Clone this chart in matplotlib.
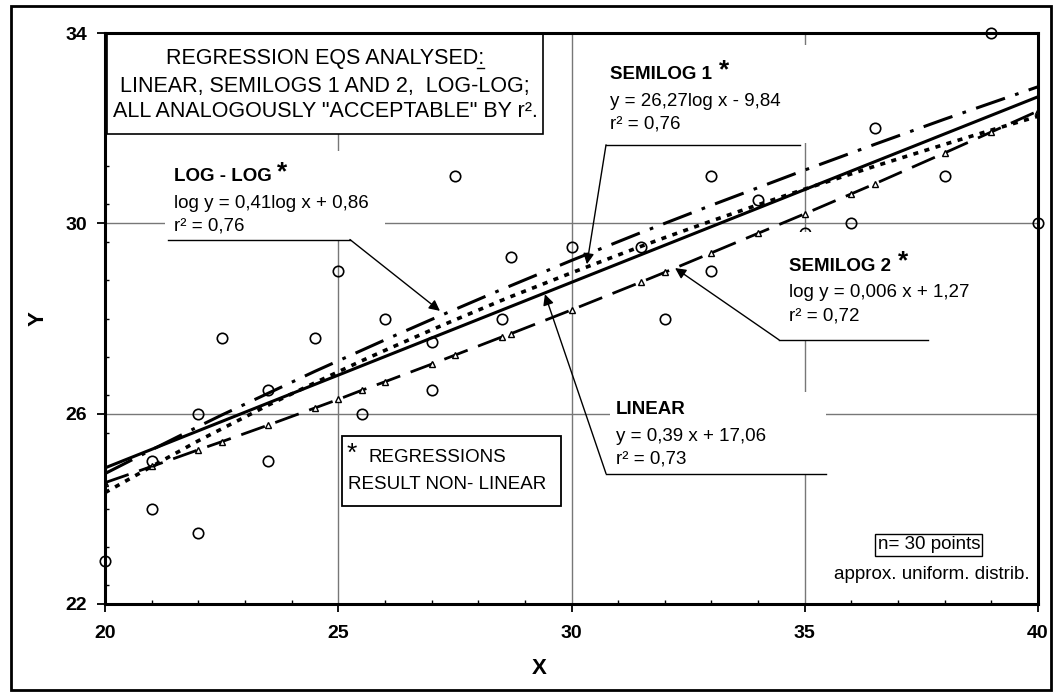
import matplotlib.pyplot as plt
from matplotlib.patches import Rectangle
from matplotlib.lines import Line2D
from matplotlib.ticker import MultipleLocator

plt.rcParams['font.family'] = ['Liberation Sans', 'DejaVu Sans']

# observed points (30 points, approx. uniform)
x_pts = [20, 21, 21, 22, 22, 22.5, 23.5, 23.5, 24.5, 25, 25.5, 26, 27, 27, 27.5,
         28.5, 28.7, 30, 31.5, 32, 33, 33, 34, 35, 36, 36.5, 38, 39, 40]
y_pts = [22.9, 25.0, 24.0, 23.5, 26.0, 27.6, 25.0, 26.5, 27.6, 29.0, 26.0, 28.0, 27.5, 26.5, 31.0,
         28.0, 29.3, 29.5, 29.5, 28.0, 31.0, 29.0, 30.5, 29.8, 30.0, 32.0, 31.0, 34.0, 30.0]

# fitted curves read at the data x positions
fit_x = [20, 21, 22, 22.5, 23.5, 24.5, 25, 25.5, 26, 27, 27.5, 28.5, 28.7, 30,
         31.5, 32, 33, 34, 35, 36, 36.5, 38, 39, 40]
semilog2_y = [24.55, 24.89, 25.24, 25.41, 25.76, 26.12, 26.30, 26.49, 26.67, 27.04, 27.23, 27.61,
              27.68, 28.18, 28.77, 28.97, 29.38, 29.79, 30.20, 30.62, 30.83, 31.48, 31.92, 32.36]
semilog1_y = [24.34, 24.89, 25.43, 25.68, 26.18, 26.65, 26.88, 27.11, 27.33, 27.76, 27.97, 28.38,
              28.46, 28.96, 29.52, 29.70, 30.05, 30.39, 30.72, 31.04, 31.20, 31.66, 31.96, 32.25]
loglog_y = [24.74, 25.24, 25.73, 25.97, 26.43, 26.89, 27.11, 27.33, 27.55, 27.98, 28.19, 28.61,
            28.69, 29.22, 29.81, 30.00, 30.38, 30.75, 31.12, 31.48, 31.66, 32.19, 32.53, 32.87]
linear_x = [20, 40]
linear_y = [24.86, 32.66]

x_ticks = [20, 25, 30, 35, 40]
y_ticks = [22, 26, 30, 34]

W, H = 1054, 693
fig = plt.figure(figsize=(W / 100, H / 100), dpi=100)
ax = fig.add_axes([105 / W, 89 / H, 933 / W, 571 / H])

FS = 13.5

# regression lines
ax.plot(linear_x, linear_y, color='black', lw=2.2, zorder=2)
ax.plot(fit_x, semilog1_y, color='black', lw=2.6, ls=(0, (1.4, 1.8)), zorder=2)
ax.plot(fit_x, loglog_y, color='black', lw=2.2, ls=(0, (10, 3.5, 1.2, 3.5)), zorder=2)
ax.plot(fit_x, semilog2_y, color='black', lw=2.0, ls=(0, (9, 4)), marker='^', ms=4.5,
        mfc='white', mec='black', mew=1, zorder=2)

# data points
ax.plot(x_pts, y_pts, 'o', mfc='none', mec='black', ms=7.5, mew=1.2, zorder=2.5, clip_on=False)

ax.set_xlim(20, 40)
ax.set_ylim(22, 34)
ax.set_xticks(x_ticks)
ax.set_yticks(y_ticks)
ax.xaxis.set_minor_locator(MultipleLocator(1))
ax.yaxis.set_minor_locator(MultipleLocator(0.8))
ax.tick_params(which='major', direction='out', length=6, width=1.3, pad=9)
ax.tick_params(axis='y', which='major', pad=7)
ax.tick_params(which='minor', direction='in', length=3, width=1)
for lab in ax.get_xticklabels() + ax.get_yticklabels():
    lab.set_fontweight('bold')
    lab.set_fontsize(14)
ax.grid(True, which='major', color='#777777', lw=1, zorder=0.5)
ax.set_axisbelow(True)
for s in ax.spines.values():
    s.set_linewidth(2.2)
    s.set_zorder(6)

fig.text(539 / W, 1 - 668 / H, 'X', fontsize=16, fontweight='bold', ha='center', va='center')
fig.text(38 / W, 1 - 319 / H, 'Y', fontsize=16, fontweight='bold', ha='center', va='center', rotation=90)

# title box
ax.add_patch(Rectangle((20.04, 31.88), 9.35, 2.12, fc='white', ec='black', lw=1.2, zorder=3))
t1 = ax.text(24.72, 33.46, 'REGRESSION EQS ANALYSED:', fontsize=15.5, ha='center', va='center', zorder=4)
ax.text(24.72, 32.88, 'LINEAR, SEMILOGS 1 AND 2,  LOG-LOG;', fontsize=15.5, ha='center', va='center', zorder=4)
ax.text(24.72, 32.36, 'ALL ANALOGOUSLY "ACCEPTABLE" BY r².', fontsize=15.5, ha='center', va='center', zorder=4)

# white backgrounds behind the equation labels
ax.add_patch(Rectangle((21.29, 29.66), 4.71, 1.85, fc='white', ec='none', zorder=3))
ax.add_patch(Rectangle((30.61, 31.68), 4.61, 2.07, fc='white', ec='none', zorder=3))
ax.add_patch(Rectangle((34.47, 27.55), 3.32, 2.26, fc='white', ec='none', zorder=3))
ax.add_patch(Rectangle((30.83, 24.74), 4.63, 1.72, fc='white', ec='none', zorder=3))


def label(x, y_top, title, eq, r2, star_x, star=True):
    ax.text(x, y_top, title, fontsize=FS, fontweight='bold', ha='left', va='center', zorder=4)
    if star:
        ax.text(star_x, y_top + 0.1, '*', fontsize=19, fontweight='bold', ha='center', va='center', zorder=4)
    ax.text(x, y_top - 0.56, eq, fontsize=FS, ha='left', va='center', zorder=4)
    ax.text(x, y_top - 1.04, r2, fontsize=FS, ha='left', va='center', zorder=4)


def leader(ux0, ux1, uy, start, tip):
    ax.plot([ux0, ux1], [uy, uy], color='black', lw=1, zorder=4)
    ax.annotate('', xy=tip, xytext=start, zorder=5,
                arrowprops=dict(arrowstyle='-|>', color='black', lw=1, mutation_scale=16,
                                shrinkA=0, shrinkB=0))


label(21.48, 30.98, 'LOG - LOG', 'log y = 0,41log x + 0,86', 'r² = 0,76', 23.79)
leader(21.35, 25.25, 29.66, (25.25, 29.66), (27.18, 28.16))

label(30.83, 33.12, 'SEMILOG 1', 'y = 26,27log x - 9,84', 'r² = 0,76', 33.27)
leader(30.74, 34.90, 31.65, (30.74, 31.65), (30.33, 29.14))

label(34.66, 29.10, 'SEMILOG 2', 'log y = 0,006 x + 1,27', 'r² = 0,72', 37.11)
leader(34.45, 37.64, 27.55, (34.45, 27.55), (32.22, 29.06))

label(30.95, 26.08, 'LINEAR', 'y = 0,39 x + 17,06', 'r² = 0,73', 0, star=False)
leader(30.74, 35.46, 24.74, (30.74, 24.74), (29.43, 28.51))

# note box
ax.add_patch(Rectangle((25.08, 24.05), 4.69, 1.49, fc='white', ec='black', lw=1.3, zorder=3))
ax.text(25.29, 25.16, '*', fontsize=19, ha='center', va='center', zorder=4)
ax.text(25.64, 25.08, 'REGRESSIONS', fontsize=FS, ha='left', va='center', zorder=4)
ax.text(25.21, 24.51, 'RESULT NON- LINEAR', fontsize=FS, ha='left', va='center', zorder=4)

ax.text(37.66, 23.24, 'n= 30 points', fontsize=FS, ha='center', va='center', zorder=4,
        bbox=dict(boxstyle='square,pad=0.12', fc='white', ec='black', lw=1))
ax.text(37.72, 22.61, 'approx. uniform. distrib.', fontsize=FS, ha='center', va='center', zorder=4)

# outer frame
fig.add_artist(Rectangle((11 / W, 3 / H), 1040 / W, 684 / H, transform=fig.transFigure,
                         fill=False, ec='black', lw=2))

# underline the colon of the title
fig.canvas.draw()
bb = t1.get_window_extent()
fig.add_artist(Line2D([(bb.x1 - 7) / W, bb.x1 / W], [(bb.y0 + 1) / H, (bb.y0 + 1) / H],
                      transform=fig.transFigure, color='black', lw=1))

fig.savefig('out.png', dpi=100)
